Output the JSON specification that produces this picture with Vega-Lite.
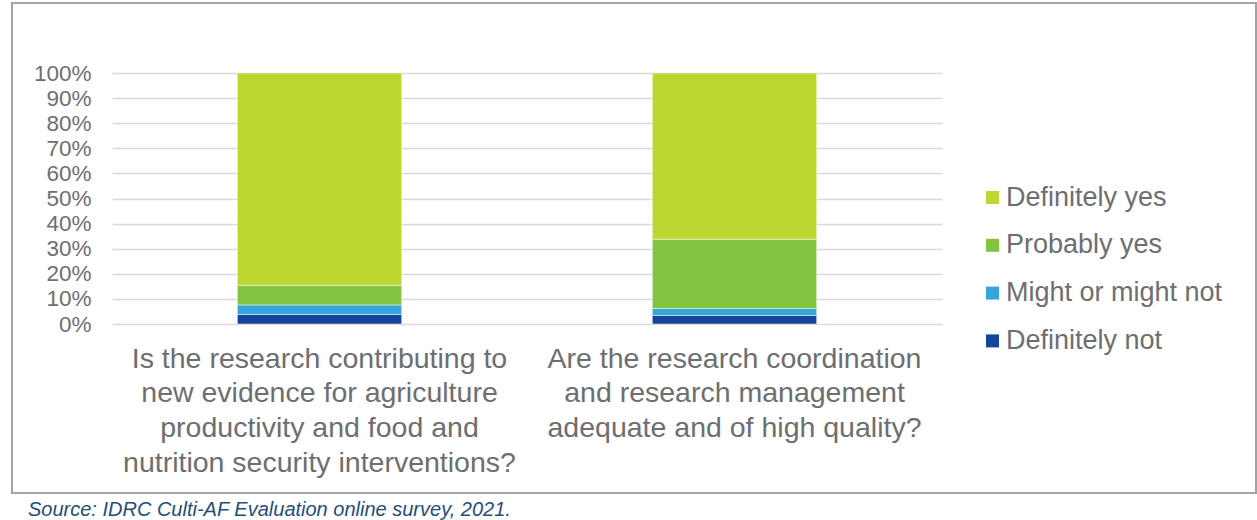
{
  "$schema": "https://vega.github.io/schema/vega-lite/v6.json",
  "width": 1244,
  "height": 490,
  "autosize": {"type": "none"},
  "padding": {"left": 12, "top": 3, "right": 1, "bottom": 27},
  "background": "white",
  "config": {
    "font": "Liberation Sans",
    "view": {"stroke": "#A3A3A3", "strokeWidth": 2}
  },
  "title": {
    "text": "Source: IDRC Culti-AF Evaluation online survey, 2021.",
    "orient": "bottom",
    "anchor": "start",
    "fontStyle": "italic",
    "fontWeight": "normal",
    "fontSize": 20,
    "color": "#1F4E79",
    "offset": 7,
    "dx": 16
  },
  "data": {
    "values": [
      {"question": "Is the research contributing to|new evidence for agriculture|productivity and food and|nutrition security interventions?", "response": "Definitely not", "rank": 1, "pct": 3.8},
      {"question": "Is the research contributing to|new evidence for agriculture|productivity and food and|nutrition security interventions?", "response": "Might or might not", "rank": 2, "pct": 3.8},
      {"question": "Is the research contributing to|new evidence for agriculture|productivity and food and|nutrition security interventions?", "response": "Probably yes", "rank": 3, "pct": 7.8},
      {"question": "Is the research contributing to|new evidence for agriculture|productivity and food and|nutrition security interventions?", "response": "Definitely yes", "rank": 4, "pct": 84.6},
      {"question": "Are the research coordination|and research management|adequate and of high quality?", "response": "Definitely not", "rank": 1, "pct": 3.4},
      {"question": "Are the research coordination|and research management|adequate and of high quality?", "response": "Might or might not", "rank": 2, "pct": 2.8},
      {"question": "Are the research coordination|and research management|adequate and of high quality?", "response": "Probably yes", "rank": 3, "pct": 27.6},
      {"question": "Are the research coordination|and research management|adequate and of high quality?", "response": "Definitely yes", "rank": 4, "pct": 66.2}
    ]
  },
  "mark": {"type": "bar", "stroke": "white", "strokeWidth": 0.8, "strokeOpacity": 0.6},
  "encoding": {
    "x": {
      "field": "question",
      "type": "nominal",
      "sort": null,
      "scale": {"range": [100, 930], "paddingInner": 0.604, "paddingOuter": 0.302},
      "axis": {
        "title": null,
        "labelAngle": 0,
        "labelExpr": "split(datum.label, '|')",
        "labelFontSize": 28.5,
        "labelColor": "#6D6E71",
        "labelLineHeight": 34.7,
        "labelLimit": 0,
        "labelOverlap": false,
        "labelPadding": 20,
        "labelAlign": "center",
        "ticks": false,
        "domain": false,
        "offset": -169
      }
    },
    "y": {
      "field": "pct",
      "type": "quantitative",
      "stack": "zero",
      "scale": {"domain": [0, 100], "range": [321, 70], "nice": false, "zero": true},
      "axis": {
        "title": null,
        "values": [0, 10, 20, 30, 40, 50, 60, 70, 80, 90, 100],
        "labelExpr": "datum.value + '%'",
        "labelFontSize": 22.5,
        "labelColor": "#6D6E71",
        "labelPadding": 21,
        "ticks": false,
        "domain": false,
        "gridColor": "#D9D9D9",
        "gridWidth": 1.5,
        "offset": -100
      }
    },
    "color": {
      "field": "response",
      "type": "nominal",
      "scale": {
        "domain": ["Definitely yes", "Probably yes", "Might or might not", "Definitely not"],
        "range": ["#BDD630", "#82C341", "#34A6DC", "#15449A"]
      },
      "legend": {
        "title": null,
        "orient": "none",
        "legendX": 967,
        "legendY": 181,
        "symbolType": "square",
        "symbolSize": 169,
        "symbolStrokeWidth": 0,
        "labelFontSize": 27,
        "labelColor": "#6D6E71",
        "labelOffset": 0,
        "rowPadding": 19.8,
        "padding": 0,
        "labelLimit": 0
      }
    },
    "order": {"field": "rank", "type": "quantitative", "sort": "ascending"}
  }
}
